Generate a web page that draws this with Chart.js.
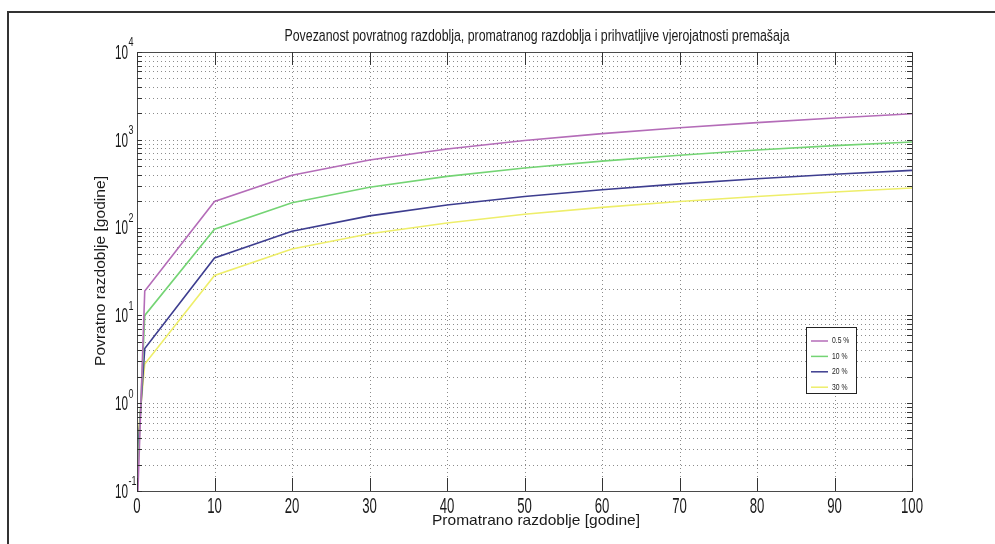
<!DOCTYPE html>
<html>
<head>
<meta charset="utf-8">
<script src="https://cdn.jsdelivr.net/npm/chart.js@4/dist/chart.umd.min.js"></script>
<style>
  html, body { margin: 0; padding: 0; background: #ffffff; }
  canvas { display: block; }
</style>
</head>
<body>
<canvas id="c" width="995" height="544"></canvas>
<script>
// Observed period n [years]
const periods = [0, 1, 10, 20, 30, 40, 50, 60, 70, 80, 90, 100];

// Return period T [years] for each accepted exceedance probability
const seriesLabels = ['0.5 %', '10 %', '20 %', '30 %'];
const returnA = [0.05, 19, 198, 395, 590, 785, 980, 1175, 1370, 1570, 1770, 1980];
const returnB = [0.1, 10, 96, 192, 288, 383, 478, 572, 668, 765, 858, 945];
const returnC = [0.2, 4.2, 45, 91, 136, 181, 226, 270, 315, 360, 405, 449];
const returnD = [0.3, 2.8, 28.5, 57, 85, 113, 142, 170, 198, 226, 254, 282];
const seriesColors = ['#b46cb8', '#74d474', '#3d3d8f', '#eeee6a'];

// Axis ticks
const xTicks = [0, 10, 20, 30, 40, 50, 60, 70, 80, 90, 100];
const yExponents = [-1, 0, 1, 2, 3, 4];

const titleText = 'Povezanost povratnog razdoblja, promatranog razdoblja i prihvatljive vjerojatnosti premašaja';
const xTitle = 'Promatrano razdoblje [godine]';
const yTitle = 'Povratno razdoblje [godine]';

const FONT = '"Liberation Sans", Arial, Helvetica, sans-serif';

function drawText(ctx, txt, x, y, size, o) {
  o = o || {};
  ctx.save();
  ctx.font = size + 'px ' + FONT;
  ctx.fillStyle = o.color || '#1a1a1a';
  const w = ctx.measureText(txt).width;
  const sx = o.width ? o.width / w : (o.scaleX || 1);
  ctx.translate(x, y);
  if (o.rotate) ctx.rotate(o.rotate);
  ctx.scale(sx, 1);
  ctx.textAlign = o.align || 'center';
  ctx.textBaseline = o.baseline || 'middle';
  ctx.fillText(txt, 0, 0);
  ctx.restore();
}

const decorPlugin = {
  id: 'decor',
  beforeDatasetsDraw(chart) {
    const ctx = chart.ctx;
    const a = chart.chartArea;
    const xs = chart.scales.x, ys = chart.scales.y;
    ctx.save();
    ctx.strokeStyle = '#8c8c8c';
    ctx.lineWidth = 1;
    ctx.setLineDash([1, 3]);
    // vertical dotted grid
    xTicks.forEach(v => {
      if (v <= 0 || v >= 100) return;
      const px = Math.round(xs.getPixelForValue(v)) + 0.5;
      ctx.beginPath(); ctx.moveTo(px, a.top); ctx.lineTo(px, a.bottom); ctx.stroke();
    });
    // horizontal dotted grid, decades and sub-decades
    yExponents.forEach(e => {
      for (let k = 1; k <= 9; k++) {
        if (e === 4 && k > 1) break;
        const v = k * Math.pow(10, e);
        const py = Math.round(ys.getPixelForValue(v)) + 0.5;
        if (py <= a.top + 1 || py >= a.bottom - 1) continue;
        ctx.beginPath(); ctx.moveTo(a.left, py); ctx.lineTo(a.right, py); ctx.stroke();
      }
    });
    ctx.restore();
  },
  afterDatasetsDraw(chart) {
    const ctx = chart.ctx;
    const a = chart.chartArea;
    const xs = chart.scales.x, ys = chart.scales.y;
    ctx.save();
    // axes box
    ctx.strokeStyle = '#4a4a4a';
    ctx.lineWidth = 1;
    ctx.strokeRect(Math.round(a.left) + 0.5, Math.round(a.top) + 0.5,
                   Math.round(a.right - a.left), Math.round(a.bottom - a.top));
    // x tick marks (bottom and top, inward)
    ctx.strokeStyle = '#333';
    xTicks.forEach(v => {
      const px = Math.round(xs.getPixelForValue(v)) + 0.5;
      ctx.beginPath(); ctx.moveTo(px, a.bottom); ctx.lineTo(px, a.bottom - 13); ctx.stroke();
      ctx.beginPath(); ctx.moveTo(px, a.top); ctx.lineTo(px, a.top + 13); ctx.stroke();
    });
    // y tick marks (left and right, inward)
    yExponents.forEach(e => {
      for (let k = 1; k <= 9; k++) {
        if (e === 4 && k > 1) break;
        const v = k * Math.pow(10, e);
        const py = Math.round(ys.getPixelForValue(v)) + 0.5;
        ctx.beginPath(); ctx.moveTo(a.left, py); ctx.lineTo(a.left + 5, py); ctx.stroke();
        ctx.beginPath(); ctx.moveTo(a.right, py); ctx.lineTo(a.right - 5, py); ctx.stroke();
      }
    });
    ctx.restore();

    // x tick labels
    xTicks.forEach(v => {
      drawText(ctx, String(v), xs.getPixelForValue(v), a.bottom + 16, 22, { scaleX: 0.6 });
    });
    // y tick labels as powers of ten
    yExponents.forEach(e => {
      const py = ys.getPixelForValue(Math.pow(10, e));
      drawText(ctx, '10', 128, py + 1, 21, { scaleX: 0.56, align: 'right' });
      drawText(ctx, String(e), 128.5, py - 9, 12, { scaleX: 0.75, align: 'left' });
    });

    // titles
    drawText(ctx, titleText, 537, 37, 16, { width: 505 });
    drawText(ctx, xTitle, 536, 521, 15, { width: 208 });
    drawText(ctx, yTitle, 101, 271, 15, { width: 190, rotate: -Math.PI / 2 });

    // legend
    const lx = 806, ly = 327, lw = 50, lh = 66;
    ctx.save();
    ctx.fillStyle = '#ffffff';
    ctx.fillRect(lx, ly, lw, lh);
    ctx.strokeStyle = '#222';
    ctx.lineWidth = 1;
    ctx.strokeRect(lx + 0.5, ly + 0.5, lw, lh);
    chart.data.datasets.forEach((ds, i) => {
      const yy = ly + 14 + i * 15.4;
      ctx.strokeStyle = ds.borderColor;
      ctx.lineWidth = 1.5;
      ctx.beginPath(); ctx.moveTo(lx + 5, yy); ctx.lineTo(lx + 22, yy); ctx.stroke();
      drawText(ctx, ds.label, lx + 26, yy, 8.5, { align: 'left', scaleX: 0.8 });
    });
    ctx.restore();

    // outer frame
    ctx.save();
    ctx.strokeStyle = '#333';
    ctx.lineWidth = 2;
    ctx.beginPath();
    ctx.moveTo(8, 546); ctx.lineTo(8, 12); ctx.lineTo(997, 12);
    ctx.stroke();
    ctx.restore();
  }
};

const bgPlugin = {
  id: 'bg',
  beforeDraw(chart) {
    const ctx = chart.ctx;
    ctx.save();
    ctx.fillStyle = '#ffffff';
    ctx.fillRect(0, 0, chart.width, chart.height);
    ctx.restore();
  }
};

const seriesValues = [returnA, returnB, returnC, returnD];

new Chart(document.getElementById('c'), {
  type: 'line',
  data: {
    datasets: seriesValues.map((vals, i) => ({
      label: seriesLabels[i],
      data: periods.map((n, j) => ({ x: n, y: vals[j] })),
      borderColor: seriesColors[i],
      backgroundColor: seriesColors[i],
      borderWidth: 1.6,
      pointRadius: 0,
      tension: 0,
      fill: false
    }))
  },
  options: {
    responsive: false,
    animation: false,
    events: [],
    layout: { padding: { left: 137, right: 83, top: 52, bottom: 53 } },
    plugins: { legend: { display: false }, title: { display: false }, tooltip: { enabled: false } },
    scales: {
      x: { type: 'linear', min: 0, max: 100, display: false },
      y: { type: 'logarithmic', min: 0.1, max: 10000, display: false }
    }
  },
  plugins: [bgPlugin, decorPlugin]
});
</script>
</body>
</html>
